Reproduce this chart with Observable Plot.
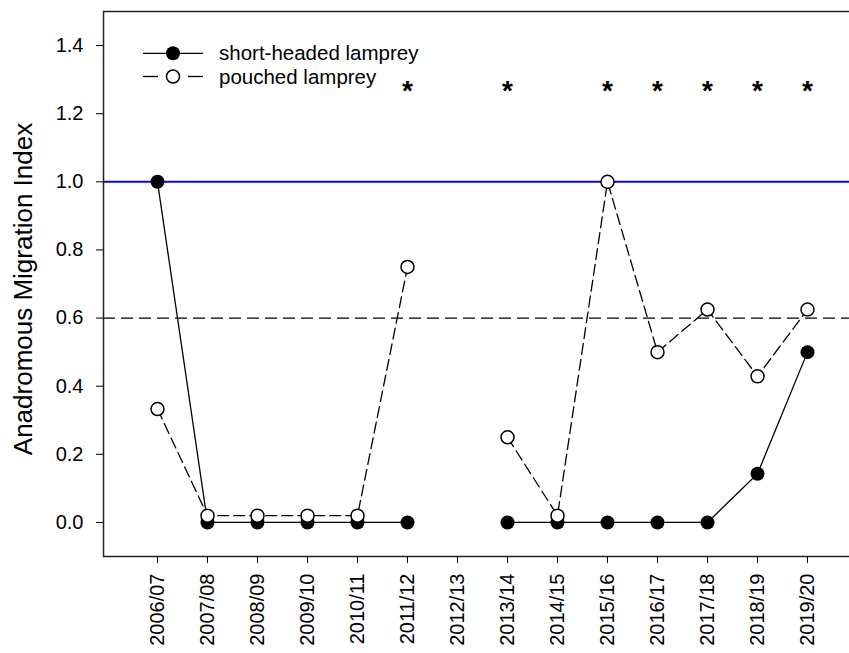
<!DOCTYPE html>
<html>
<head>
<meta charset="utf-8">
<script src="https://cdn.jsdelivr.net/npm/d3@7"></script>
<script src="https://cdn.jsdelivr.net/npm/@observablehq/plot@0.6"></script>
<style>
  html, body { margin: 0; padding: 0; background: #fff; overflow: hidden; }
  #chart { width: 849px; height: 653px; overflow: hidden; position: relative; }
  #chart svg { display: block; max-width: none !important; width: 861px; height: 653px; }
</style>
</head>
<body>
<div id="chart"></div>
<script>
// Migration seasons along the x axis (2012/13 has no sampling)
const seasons = ["2006/07", "2007/08", "2008/09", "2009/10", "2010/11", "2011/12", "2012/13",
                 "2013/14", "2014/15", "2015/16", "2016/17", "2017/18", "2018/19", "2019/20"];

// Anadromous Migration Index per season (null = not sampled)
const shortHeaded = [1.0, 0, 0, 0, 0, 0, null, 0, 0, 0, 0, 0, 0.143, 0.5];
const pouched     = [0.333, 0.02, 0.02, 0.02, 0.02, 0.75, null, 0.25, 0.02, 1.0, 0.5, 0.625, 0.429, 0.625];

// Seasons flagged as significant
const starred = ["2011/12", "2013/14", "2015/16", "2016/17", "2017/18", "2018/19", "2019/20"];
const starLevel = 1.266;

// Reference levels
const fullMigration = 1.0;
const threshold = 0.6;

// Axis ticks
const yTicks = [0, 0.2, 0.4, 0.6, 0.8, 1.0, 1.2, 1.4];
const yTitle = "Anadromous Migration Index";

const legendItems = [
  {label: "short-headed lamprey", fill: "black", dashed: false},
  {label: "pouched lamprey", fill: "white", dashed: true}
];

const rows = seasons.map((season, i) => ({season, short: shortHeaded[i], pouched: pouched[i]}));

const font = "'Liberation Sans', Arial, Helvetica, sans-serif";

const chart = Plot.plot({
  width: 861,
  height: 653,
  marginLeft: 103,
  marginRight: 0,
  marginTop: 11,
  marginBottom: 97,
  style: {fontFamily: font, color: "black", background: "white", overflow: "visible"},
  x: {type: "point", domain: seasons, padding: 1},
  y: {domain: [-0.1, 1.5]},
  marks: [
    Plot.ruleY([fullMigration], {stroke: "#0a0ad0", strokeWidth: 2}),
    Plot.ruleY([threshold], {stroke: "black", strokeWidth: 1.2, strokeDasharray: "12,6"}),
    Plot.line(rows, {x: "season", y: "short", stroke: "black", strokeWidth: 1.3}),
    Plot.dot(rows, {x: "season", y: "short", r: 7, fill: "black", stroke: "black", strokeWidth: 0}),
    Plot.line(rows, {x: "season", y: "pouched", stroke: "black", strokeWidth: 1.3, strokeDasharray: "11,5"}),
    Plot.dot(rows, {x: "season", y: "pouched", r: 6.5, fill: "white", stroke: "black", strokeWidth: 1.5}),
    Plot.text(starred, {x: d => d, y: () => starLevel, text: () => "*", fontSize: 28, fontWeight: "bold"}),
    Plot.frame({stroke: "#222", strokeWidth: 1.5}),
    Plot.axisY({ticks: yTicks, tickFormat: d3.format(".1f"), tickSize: 7, tickPadding: 13, fontSize: 20, label: null}),
    Plot.axisX({tickRotate: -90, tickSize: 7, tickPadding: 10, fontSize: 20, label: null})
  ]
});

document.getElementById("chart").appendChild(chart);

const svg = d3.select(chart);

// Y axis title, rotated along the left edge
svg.append("text")
  .attr("transform", "translate(23,289) rotate(-90)")
  .attr("text-anchor", "middle")
  .attr("dy", "0.35em")
  .attr("font-family", font)
  .attr("font-size", 26)
  .attr("fill", "black")
  .text(yTitle);

// In-plot legend (top-left corner)
const lg = svg.append("g").attr("font-family", font).attr("font-size", 20.5).attr("text-anchor", "start");
legendItems.forEach((item, i) => {
  const cy = 53.3 + i * 23.2;
  const g = lg.append("g").attr("transform", `translate(0,${cy})`);
  if (item.dashed) {
    g.append("line").attr("x1", 143).attr("x2", 158).attr("y1", 0).attr("y2", 0).attr("stroke", "black").attr("stroke-width", 1.3);
    g.append("line").attr("x1", 188).attr("x2", 203).attr("y1", 0).attr("y2", 0).attr("stroke", "black").attr("stroke-width", 1.3);
    g.append("circle").attr("cx", 173).attr("cy", 0).attr("r", 6.5).attr("fill", "white").attr("stroke", "black").attr("stroke-width", 1.5);
  } else {
    g.append("line").attr("x1", 143).attr("x2", 203).attr("y1", 0).attr("y2", 0).attr("stroke", "black").attr("stroke-width", 1.3);
    g.append("circle").attr("cx", 173).attr("cy", 0).attr("r", 7).attr("fill", "black");
  }
  g.append("text").attr("x", 219).attr("y", 0).attr("dy", "0.35em").attr("fill", "black").text(item.label);
});
</script>
</body>
</html>
